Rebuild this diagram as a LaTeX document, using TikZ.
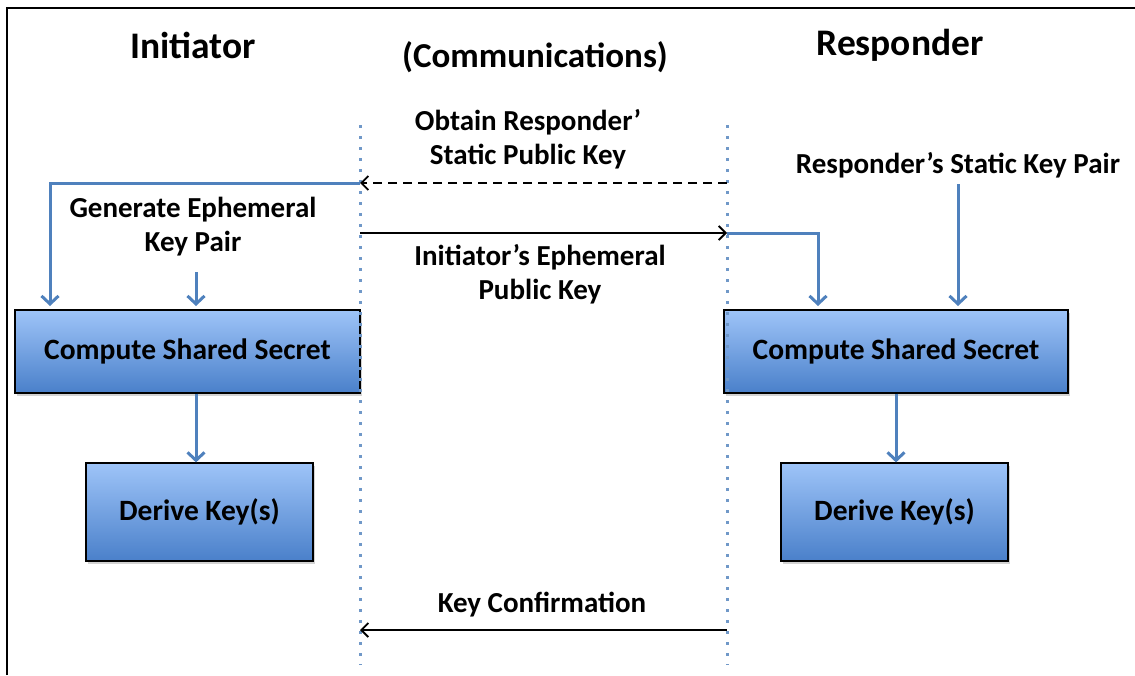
\documentclass[tikz,border=0pt]{standalone}
\usepackage{fontspec}
\setmainfont{Carlito}
\usetikzlibrary{arrows.meta,shadows}
\definecolor{linkblue}{HTML}{4F81BD}
\definecolor{boxtop}{HTML}{9EC4F8}
\definecolor{boxbottom}{HTML}{4A80CA}
\definecolor{dotblue}{HTML}{7098C8}
\begin{document}
\begin{tikzpicture}[x=1pt, y=-1pt,
  procbox/.style={draw=black, line width=1.2pt, top color=boxtop, bottom color=boxbottom,
    drop shadow={shadow xshift=2pt, shadow yshift=-3pt, opacity=0.35},
    font=\bfseries\fontsize{29.5}{33}\selectfont, inner sep=0pt},
  lbl/.style={font=\bfseries\fontsize{29}{34}\selectfont, align=center, inner sep=0pt},
  heading/.style={font=\bfseries\fontsize{37.5}{40}\selectfont, inner sep=0pt},
  lane/.style={dotblue, line width=3pt, dash pattern=on 3pt off 8pt},
  flow/.style={linkblue, line width=3pt, -{Straight Barb[length=8pt, width=17pt]}},
  msg/.style={black, line width=1.8pt, -{Straight Barb[length=7pt, width=14pt]}}]
  \useasboundingbox (0,0) rectangle (1135,675);
  \draw[line width=2.5pt] (7,675) -- (7,8) -- (1135,8);
  % headings
  \node[heading] (initiator) at (193,45) {Initiator};
  \node[heading, font=\bfseries\fontsize{35}{40}\selectfont] (comms) at (535,57) {(Communications)};
  \node[heading] (responder) at (900,45) {Responder};
  % boxes
  \node[procbox, minimum width=345, minimum height=83] (compL) at (187.5,351.5) {Compute Shared Secret};
  \node[procbox, minimum width=227, minimum height=98] (derL) at (199.5,512) {Derive Key(s)};
  \node[procbox, minimum width=344, minimum height=83] (compR) at (896,351.5) {Compute Shared Secret};
  \node[procbox, minimum width=227, minimum height=98] (derR) at (894.5,512) {Derive Key(s)};
  % lanes
  \coordinate (laneLtop) at (360,125);
  \coordinate (laneLbot) at (360,665);
  \coordinate (laneRtop) at (727,125);
  \coordinate (laneRbot) at (727,665);
  \draw[lane] (laneLtop) -- (laneLbot);
  \draw[lane] (laneRtop) -- (laneRbot);
  % labels
  \node[lbl] (obtain) at (528,139) {Obtain Responder’\\Static Public Key};
  \node[lbl] (genL) at (193,227) {Generate Ephemeral\\Key Pair};
  \node[lbl] (ephem) at (540,274) {Initiator’s Ephemeral\\Public Key};
  \node[lbl] (statR) at (958,165) {Responder’s Static Key Pair};
  \node[lbl] (confirm) at (542,605) {Key Confirmation};
  % message ends
  \coordinate (obtR) at (727,183);
  \coordinate (obtL) at (360,183);
  \coordinate (iniL) at (360,233);
  \coordinate (iniR) at (727,233);
  \coordinate (confR) at (727,630);
  \coordinate (confL) at (360,630);
  \coordinate (inL) at (50,306);
  \coordinate (inR) at (818,306);
  % messages
  \draw[msg, dash pattern=on 9pt off 6pt] (obtR) -- (obtL);
  \draw[msg] (iniL) -- (iniR);
  \draw[msg] (confR) -- (confL);
  % flows
  \draw[flow] (obtL) -| (inL);
  \draw[flow] (196,272) -- (196,306);
  \draw[flow] (compL.south -| 196,0) -- (derL.north -| 196,0);
  \draw[flow] (iniR) -| (inR);
  \draw[flow] ([yshift=-6pt]statR.south) -- (statR.south |- 0,306);
  \draw[flow] (compR.south) -- (compR.south |- derR.north);
\end{tikzpicture}
\end{document}
